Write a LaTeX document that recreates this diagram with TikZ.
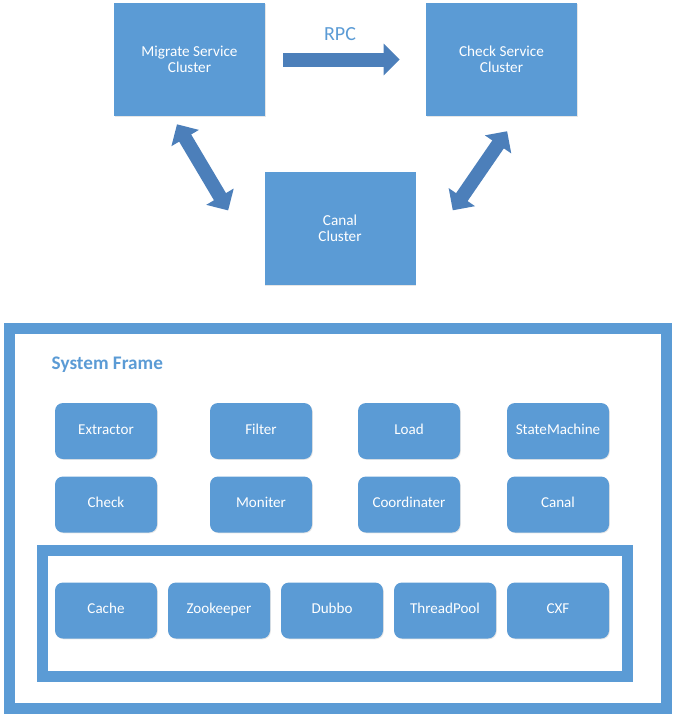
\documentclass[tikz,border=0pt]{standalone}
\usepackage{fontspec}
\setmainfont{Carlito}
\usetikzlibrary{arrows.meta,calc,shadows}
\definecolor{boxblue}{RGB}{91,155,213}
\definecolor{arrowblue}{RGB}{76,127,186}

\begin{document}
\begin{tikzpicture}[x=0.75pt,y=-0.75pt,
        cluster/.style={fill=boxblue, text=white, inner sep=0pt, align=center,
            minimum width=113.25pt, minimum height=84.75pt,
            font=\fontsize{11.4}{12}\selectfont,
            drop shadow={shadow xshift=0.6pt, shadow yshift=-0.6pt, opacity=0.2}},
        part/.style={fill=boxblue, text=white, inner sep=0pt, rounded corners=6pt,
            minimum width=76.5pt, minimum height=42pt,
            text height=7.6pt, text depth=2.4pt,
            font=\fontsize{11.3}{12}\selectfont,
            drop shadow={shadow xshift=0.6pt, shadow yshift=-0.6pt, opacity=0.2}},
        frame/.style={draw=boxblue, line width=8.25pt},
        fatone/.style={draw=arrowblue, line width=10.5pt,
            -{Triangle[width=23.25pt,length=12pt]}},
        fattwo/.style={draw=arrowblue, line width=10.5pt,
            {Triangle[width=23.25pt,length=12pt]}-{Triangle[width=23.25pt,length=12pt]}}]
        \useasboundingbox (0,0) rectangle (677,722);

        % the three clusters
        \node[cluster] (migrate) at (189.5,59.5) {Migrate Service\\Cluster};
        \node[cluster] (checksvc) at (501.5,59.5) {Check Service\\Cluster};
        \node[cluster] (canalcl) at (340,228.5) {Canal\\Cluster};

        \node[text=boxblue, font=\fontsize{15}{17}\selectfont] (rpc) at (340,34) {RPC};
        \draw [fatone, shorten <=13.5pt, shorten >=19.5pt] (migrate.east) -- (checksvc.east -| checksvc.west);
        \draw [fattwo, shorten <=7pt, shorten >=53pt]
            ($(migrate.south west)!0.386!(migrate.south east)$) -- ($(canalcl.north west)!0.876!(canalcl.south west)$);
        \draw [fattwo, shorten <=13.6pt, shorten >=49pt]
            ($(checksvc.south west)!0.605!(checksvc.south east)$) -- ($(canalcl.north east)!0.814!(canalcl.south east)$);

        % system frame
        \draw [frame] (9.5,328.5) rectangle (666,708);      % outer frame
        \draw [frame] (42.5,550.5) rectangle (627.5,676.5); % inner frame
        \node[anchor=west, text=boxblue, font=\fontsize{14.4}{16}\selectfont\bfseries] (sysframe) at (47,365) {System Frame};

        \node[part] (extractor) at (106,431) {Extractor};
        \node[part] (filter) at (261,431) {Filter};
        \node[part] (load) at (409,431) {Load};
        \node[part] (statemachine) at (558,431) {StateMachine};

        \node[part] (check) at (106,504.5) {Check};
        \node[part] (moniter) at (261,504.5) {Moniter};
        \node[part] (coordinater) at (409,504.5) {Coordinater};
        \node[part] (canal) at (558,504.5) {Canal};

        \node[part] (cache) at (106,610.5) {Cache};
        \node[part] (zookeeper) at (219,610.5) {Zookeeper};
        \node[part] (dubbo) at (332,610.5) {Dubbo};
        \node[part] (threadpool) at (445,610.5) {ThreadPool};
        \node[part] (cxf) at (558,610.5) {CXF};
    \end{tikzpicture}
\end{document}
